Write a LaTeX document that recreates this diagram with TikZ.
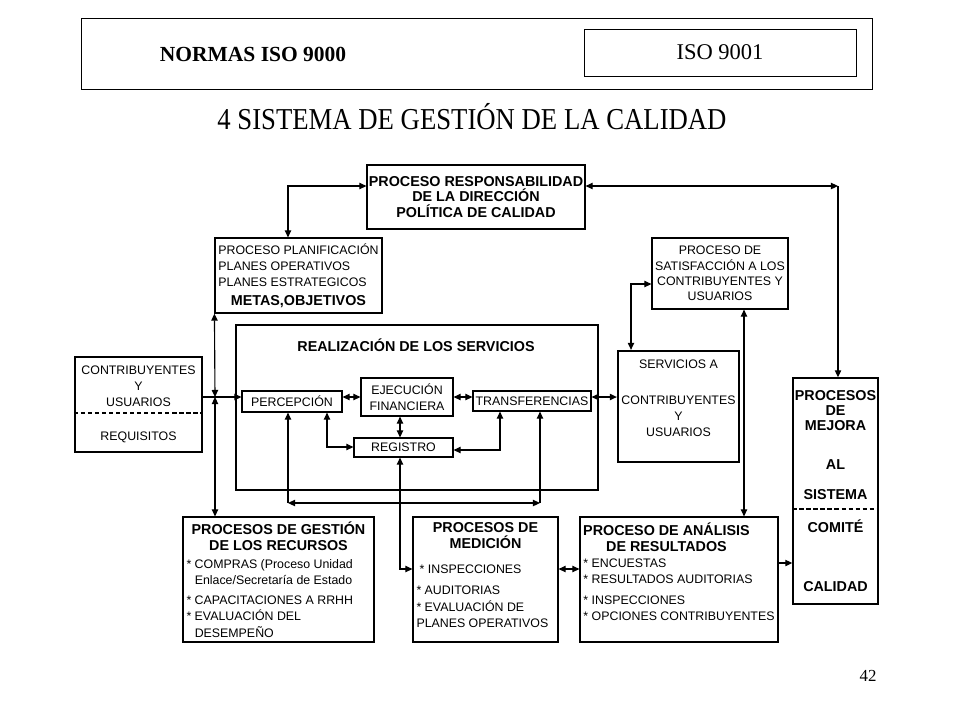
\documentclass[tikz,border=0pt]{standalone}
\usepackage{fontspec}
\setmainfont{Liberation Serif}
\newfontfamily\diagfont{Liberation Sans}
\usetikzlibrary{arrows.meta}

\newcommand\rfont{\diagfont\fontsize{8.8}{11.5}\selectfont}
\newcommand\bfont{\diagfont\bfseries\fontsize{10.2}{11}\selectfont}

\tikzset{
  box/.style={draw, line width=0.8pt, inner sep=0pt, font=\rfont, align=center},
  heavybox/.style={box, line width=1.6pt},
  conn/.style={line width=0.8pt, -{Triangle[length=5pt,width=4.5pt]}},
  dconn/.style={line width=0.8pt, {Triangle[length=5pt,width=4.5pt]}-{Triangle[length=5pt,width=4.5pt]}},
  sepline/.style={line width=0.8pt, dash pattern=on 3pt off 2pt}
}

\begin{document}
\begin{tikzpicture}[x=0.25mm,y=-0.25mm]
\useasboundingbox (0,0) rectangle (960,720);

\node[draw, line width=0.7pt, minimum width=791*0.25mm, minimum height=71*0.25mm] (cabecera) at (476.5,53.5) {};
\node[font=\bfseries\fontsize{15.3}{18}\selectfont] (normas) at (253,54) {NORMAS ISO 9000};
\node[draw, line width=0.7pt, minimum width=272*0.25mm, minimum height=47*0.25mm, font=\fontsize{16}{19}\selectfont] (iso) at (720,52.5) {ISO 9001};
\node[font=\fontsize{21.6}{24}\selectfont\addfontfeature{FakeStretch=0.88}] (titulo) at (472,117) {4 SISTEMA DE GESTIÓN DE LA CALIDAD};
\node[font=\fontsize{12}{14}\selectfont] (pagina) at (868,676) {42};

\node[box, minimum width=218*0.25mm, minimum height=64*0.25mm, font=\bfont] (direccion) at (476,197) {PROCESO RESPONSABILIDAD\\DE LA DIRECCIÓN\\POLÍTICA DE CALIDAD};
\node[box, minimum width=167*0.25mm, minimum height=75*0.25mm, align=left] (planif) at (298.5,275.5) {PROCESO PLANIFICACIÓN\\PLANES OPERATIVOS\\PLANES ESTRATEGICOS\\[2pt]\makebox[40mm]{\bfont METAS,OBJETIVOS}};
\node[box, minimum width=136*0.25mm, minimum height=71*0.25mm, font=\diagfont\fontsize{8.8}{11}\selectfont] (satisf) at (720,273.5) {PROCESO DE\\SATISFACCIÓN A LOS\\CONTRIBUYENTES Y\\USUARIOS};

\node[box, line width=1pt, minimum width=362*0.25mm, minimum height=165*0.25mm] (realiz) at (417,407.5) {};
\node[font=\bfont] (realiztit) at (416,345) {REALIZACIÓN DE LOS SERVICIOS};
\node[box, minimum width=100*0.25mm, minimum height=21*0.25mm] (percep) at (292,401.5) {PERCEPCIÓN};
\node[box, minimum width=92*0.25mm, minimum height=38*0.25mm] (ejec) at (407,397) {EJECUCIÓN\\FINANCIERA};
\node[box, minimum width=118*0.25mm, minimum height=20*0.25mm] (transf) at (532,401) {TRANSFERENCIAS};
\node[box, minimum width=99*0.25mm, minimum height=19*0.25mm] (registro) at (403.5,447.5) {REGISTRO};

\node[heavybox, minimum width=127*0.25mm, minimum height=95*0.25mm] (contrib) at (138.5,404.5) {CONTRIBUYENTES\\Y\\USUARIOS\\[12.7pt]REQUISITOS};
\draw[sepline] (contrib.west |- 0,413) -- (contrib.east |- 0,413);

\node[heavybox, minimum width=121*0.25mm, minimum height=111*0.25mm] (servicios) at (678.5,406.5) {SERVICIOS A\\[14pt]CONTRIBUYENTES\\Y\\USUARIOS\\\mbox{}};

\node[box, line width=1pt, minimum width=85*0.25mm, minimum height=226*0.25mm, font=\bfont] (mejora) at (835.5,491) {PROCESOS\\DE\\MEJORA\\[16.7pt]AL\\[10.3pt]SISTEMA\\[12.5pt]COMITÉ\\[31pt]CALIDAD};
\draw[sepline] (mejora.west |- 0,509) -- (mejora.east |- 0,509);

\node[box, minimum width=191*0.25mm, minimum height=125*0.25mm, align=left] (gestion) at (278.5,579.5) {\makebox[46mm]{\bfont PROCESOS DE GESTIÓN}\\\makebox[46mm]{\bfont DE LOS RECURSOS}\\[1pt]{*} COMPRAS (Proceso Unidad\\\hphantom{* }Enlace/Secretaría de Estado\\[3pt]{*} CAPACITACIONES A RRHH\\{*} EVALUACIÓN DEL\\\hphantom{* }DESEMPEÑO};
\node[box, minimum width=145*0.25mm, minimum height=125*0.25mm, align=left] (medicion) at (485.5,579.5) {\makebox[34.5mm]{\bfont PROCESOS DE}\\\makebox[34.5mm]{\bfont MEDICIÓN}\\[6.3pt]\hspace*{0.8mm}{*} INSPECCIONES\\[3.5pt]{*} AUDITORIAS\\[0.5pt]{*} EVALUACIÓN DE\\PLANES OPERATIVOS\\[-5pt]\mbox{}};
\node[box, minimum width=198*0.25mm, minimum height=125*0.25mm, align=left] (analisis) at (679,579.5) {\makebox[41.5mm]{\bfont PROCESO DE ANÁLISIS}\\\makebox[41.5mm]{\bfont DE RESULTADOS}\\{*} ENCUESTAS\\{*} RESULTADOS AUDITORIAS\\[3pt]{*} INSPECCIONES\\{*} OPCIONES CONTRIBUYENTES\\\mbox{}};

\coordinate (a1) at (288,186);
\coordinate (a2) at (838,186);
\coordinate (nudo) at (215,397);
\coordinate (vreg) at (400,569);
\coordinate (pr) at (327,447);
\coordinate (tr) at (500,450);
\coordinate (bl) at (288,503);
\coordinate (br) at (540,503);
\coordinate (vsat) at (744,400);
\coordinate (ssat) at (631,284);

\draw[dconn] (direccion.west |- a1) -- (a1) -- (a1 |- planif.north);
\draw[dconn] (direccion.east |- a2) -- (a2);
\draw[conn] (a2) -- (a2 |- mejora.north);
\draw[dconn] (planif.south west) -- (nudo);
\draw[dconn] (nudo) -- (nudo |- gestion.north);
\draw[conn] (contrib.east |- nudo) -- (percep.west |- nudo);
\draw[dconn] (percep.east |- nudo) -- (ejec.west |- nudo);
\draw[dconn] (ejec.east |- nudo) -- (transf.west |- nudo);
\draw[dconn] (transf.east |- nudo) -- (servicios.west |- nudo);
\draw[dconn] (vreg |- ejec.south) -- (vreg |- registro.north);
\draw[dconn] (pr |- percep.south) -- (pr) -- (registro.west |- pr);
\draw[dconn] (tr |- transf.south) -- (tr) -- (registro.east |- tr);
\draw[dconn] (bl) -- (br);
\draw[conn] (bl) -- (bl |- percep.south);
\draw[conn] (br) -- (br |- transf.south);
\draw[dconn] (vreg |- registro.south) -- (vreg) -- (medicion.west |- vreg);
\draw[dconn] (medicion.east |- vreg) -- (analisis.west |- vreg);
\draw[conn] (analisis.east |- 0,563) -- (mejora.west |- 0,563);
\draw[dconn] (vsat |- satisf.south) -- (vsat |- analisis.north);
\draw[dconn] (ssat |- servicios.north) -- (ssat) -- (satisf.west |- ssat);
\end{tikzpicture}
\end{document}
